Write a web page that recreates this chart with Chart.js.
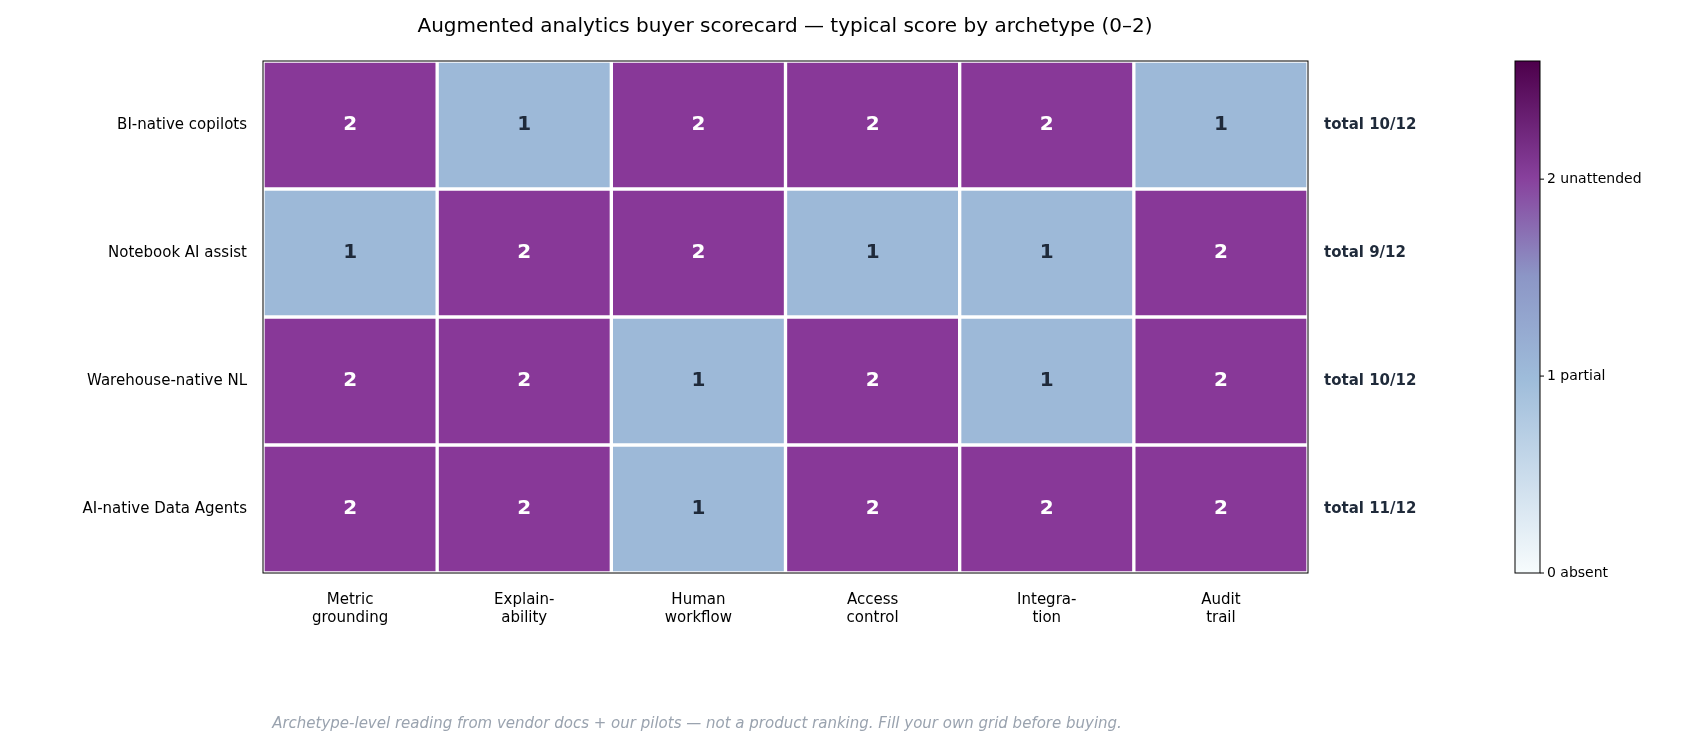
<!DOCTYPE html>
<html><head><meta charset="utf-8">
<script src="https://cdn.jsdelivr.net/npm/chart.js@4"></script>
<style>html,body{margin:0;background:#fff}#wrap{width:1691px;height:750px}</style>
</head><body><div id="wrap"><canvas id="myChart"></canvas></div>
<script>
const criteria = [['Metric', 'grounding'], ['Explain-', 'ability'], ['Human', 'workflow'], ['Access', 'control'], ['Integra-', 'tion'], ['Audit', 'trail']];
const archetypes = ['BI-native copilots', 'Notebook AI assist', 'Warehouse-native NL', 'AI-native Data Agents'];
const scores = [
  [2, 1, 2, 2, 2, 1],
  [1, 2, 2, 1, 1, 2],
  [2, 2, 1, 2, 1, 2],
  [2, 2, 1, 2, 2, 2]
];
const colorTicks = [[0, '0 absent'], [1, '1 partial'], [2, '2 unattended']];
const scoreMax = 2.6;

// BuPu-ish stops
const stops = [[0, '#f7fcfd'], [0.38, '#9ebcda'], [0.58, '#8c96c6'], [0.77, '#88419d'], [1, '#4d004b']];
function cellColor(v) {
  return v >= 2 ? '#883898' : v >= 1 ? '#9db9d8' : '#f7fcfd';
}

const datasets = archetypes.map((name, r) => ({
  label: name,
  data: scores[r].map(() => [r, r + 1]),
  backgroundColor: scores[r].map(cellColor),
  borderColor: '#ffffff',
  borderWidth: 2,
  borderSkipped: false,
  grouped: false,
  barPercentage: 1,
  categoryPercentage: 1
}));

const overlay = {
  id: 'overlay',
  afterDatasetsDraw(chart) {
    const c = chart.ctx, a = chart.chartArea, x = chart.scales.x, y = chart.scales.y;
    c.save();
    c.textAlign = 'center'; c.textBaseline = 'middle';
    c.font = 'bold 20px "DejaVu Sans"';
    scores.forEach((row, r) => {
      row.forEach((v, i) => {
        c.fillStyle = v >= 2 ? '#ffffff' : '#1f2a3a';
        c.fillText(String(v), x.getPixelForValue(i), y.getPixelForValue(r + 0.5));
      });
      const tot = row.reduce((s, v) => s + v, 0);
      c.textAlign = 'left'; c.fillStyle = '#1f2a3a';
      c.font = 'bold 15px "DejaVu Sans"';
      c.fillText('total ' + tot + '/12', a.right + 16, y.getPixelForValue(r + 0.5));
      c.textAlign = 'center'; c.font = 'bold 20px "DejaVu Sans"';
    });
    c.strokeStyle = '#000'; c.lineWidth = 1;
    c.strokeRect(a.left, a.top, a.right - a.left, a.bottom - a.top);
    // title
    c.fillStyle = '#000'; c.font = '20px "DejaVu Sans"';
    c.fillText('Augmented analytics buyer scorecard \u2014 typical score by archetype (0\u20132)', 785, 27);
    // footnote
    c.fillStyle = '#9aa3af'; c.font = 'italic 15px "DejaVu Sans"';
    c.fillText('Archetype-level reading from vendor docs + our pilots \u2014 not a product ranking. Fill your own grid before buying.', 697, 724);
    // colorbar
    const cx = 1515, cw = 25, top = a.top, bot = a.bottom;
    const g = c.createLinearGradient(0, bot, 0, top);
    stops.forEach(s => g.addColorStop(s[0], s[1]));
    c.fillStyle = g; c.fillRect(cx, top, cw, bot - top);
    c.strokeRect(cx, top, cw, bot - top);
    c.textAlign = 'left'; c.fillStyle = '#000'; c.font = '14px "DejaVu Sans"';
    colorTicks.forEach(t => {
      const py = bot - (t[0] / scoreMax) * (bot - top);
      c.beginPath(); c.moveTo(cx + cw, py); c.lineTo(cx + cw + 4, py); c.stroke();
      c.fillText(t[1], cx + cw + 7, py);
    });
    c.restore();
  }
};

new Chart(document.getElementById('myChart').getContext('2d'), {
  type: 'bar',
  data: { labels: criteria, datasets: datasets },
  options: {
    responsive: true, maintainAspectRatio: false, animation: false,
    layout: { padding: { top: 61, right: 383, left: 0, bottom: 0 } },
    plugins: { legend: { display: false }, tooltip: { enabled: false } },
    scales: {
      x: {
        grid: { display: false }, border: { display: false },
        ticks: { color: '#000', font: { size: 15, family: 'DejaVu Sans' }, padding: 10 },
        afterFit(s) { s.height = 177; }
      },
      y: {
        type: 'linear', min: 0, max: 4, reverse: true,
        grid: { display: false }, border: { display: false },
        afterBuildTicks(s) { s.ticks = archetypes.map((_, i) => ({ value: i + 0.5 })); },
        ticks: { color: '#000', font: { size: 15, family: 'DejaVu Sans' }, padding: 8,
          callback: (v) => archetypes[Math.floor(v)] },
        afterFit(s) { s.width = 263; }
      }
    }
  },
  plugins: [overlay]
});
</script></body></html>
